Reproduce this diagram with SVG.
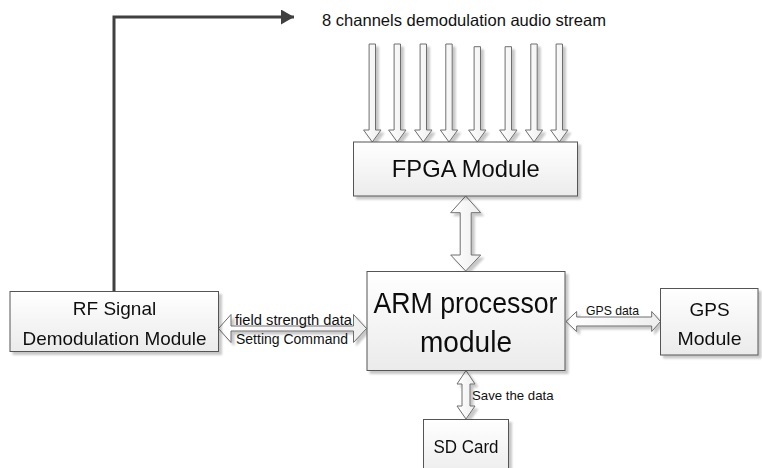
<svg xmlns="http://www.w3.org/2000/svg" width="762" height="468" viewBox="0 0 762 468">
<style>
.box{fill:url(#gb);stroke:#555555;stroke-width:1}
.blk{fill:url(#ga);stroke:#6e6e6e;stroke-width:1;stroke-linejoin:miter}
.t{font-family:"Liberation Sans",Arial,sans-serif;fill:#111111}
.m{text-anchor:middle}
.wire{fill:none;stroke:#404040;stroke-width:3}
</style>
<defs>
<linearGradient id="gb" x1="0" y1="0" x2="0" y2="1"><stop offset="0" stop-color="#ffffff"/><stop offset="1" stop-color="#ebebeb"/></linearGradient>
<linearGradient id="ga" x1="0" y1="0" x2="1" y2="0"><stop offset="0" stop-color="#ffffff"/><stop offset="1" stop-color="#eeeeee"/></linearGradient>
<filter id="sh" filterUnits="userSpaceOnUse" x="0" y="0" width="762" height="480">
<feGaussianBlur in="SourceAlpha" stdDeviation="1.2"/>
<feOffset dx="3" dy="3"/>
<feComponentTransfer><feFuncA type="linear" slope="0.22"/></feComponentTransfer>
<feMerge><feMergeNode/><feMergeNode in="SourceGraphic"/></feMerge>
</filter>
<marker id="ah" markerUnits="userSpaceOnUse" markerWidth="14" markerHeight="16" refX="13" refY="7.5" orient="auto">
<path d="M0,0 L13,7.5 L0,15 Z" fill="#404040"/>
</marker>
</defs>

<g id="connectors">
<polyline class="wire" points="114,291.5 114,17 294,17" marker-end="url(#ah)"/>
<g id="audio-arrows" filter="url(#sh)">
<path class="blk" d="M369.1,44 H375.5 V130 H381 L372.3,142 L363.6,130 H369.1 Z"/>
<path class="blk" d="M394.1,44 H400.5 V130 H406 L397.3,142 L388.6,130 H394.1 Z"/>
<path class="blk" d="M420.1,44 H426.5 V130 H432 L423.3,142 L414.6,130 H420.1 Z"/>
<path class="blk" d="M445.8,44 H452.2 V130 H457.7 L449,142 L440.3,130 H445.8 Z"/>
<path class="blk" d="M474.1,46.7 H480.5 V130 H486 L477.3,142 L468.6,130 H474.1 Z"/>
<path class="blk" d="M505.1,46.7 H511.5 V130 H517 L508.3,142 L499.6,130 H505.1 Z"/>
<path class="blk" d="M530.8,44 H537.2 V130 H542.7 L534,142 L525.3,130 H530.8 Z"/>
<path class="blk" d="M556.1,44 H562.5 V130 H568 L559.3,142 L550.6,130 H556.1 Z"/>
</g>
<g id="fpga-arm" filter="url(#sh)">
<path class="blk" d="M465.7,196 L480.7,212.7 H471.2 V255 H480.7 L465.7,271 L450.7,255 H460.2 V212.7 H450.7 Z"/>
</g>
<g id="rf-arm" filter="url(#sh)">
<path class="blk" d="M218.5,328.5 L231,314.5 V326 H353.5 V314.5 L366.5,328.5 L353.5,342.5 V331 H231 V342.5 Z"/>
</g>
<g id="arm-gps" filter="url(#sh)">
<path class="blk" d="M566,321.5 L576.7,311.5 V317 H651.7 V311.5 L660.5,321.5 L651.7,331.5 V326 H576.7 V331.5 Z"/>
</g>
<g id="arm-sd" filter="url(#sh)">
<path class="blk" d="M466,370.5 L475,384 H470 V406 H475 L466,419 L457,406 H462 V384 H457 Z"/>
</g>
<text class="t" x="322" y="26" font-size="16.5" textLength="284" lengthAdjust="spacingAndGlyphs">8 channels demodulation audio stream</text>
<text class="t" x="235" y="324.5" font-size="14" textLength="117" lengthAdjust="spacingAndGlyphs">field strength data</text>
<text class="t" x="236" y="343.5" font-size="14" textLength="112" lengthAdjust="spacingAndGlyphs">Setting Command</text>
<text class="t" x="586" y="315" font-size="13" textLength="53" lengthAdjust="spacingAndGlyphs">GPS data</text>
<text class="t" x="472" y="400" font-size="13" textLength="81.5" lengthAdjust="spacingAndGlyphs">Save the data</text>
</g>

<g id="fpga" filter="url(#sh)">
<rect class="box" x="353.5" y="142" width="224" height="54"/>
<text class="t m" x="465.8" y="177" font-size="24" textLength="148" lengthAdjust="spacingAndGlyphs">FPGA Module</text>
</g>

<g id="arm" filter="url(#sh)">
<rect class="box" x="367" y="271.5" width="198" height="99"/>
<text class="t m" x="465.5" y="313" font-size="29" textLength="184" lengthAdjust="spacingAndGlyphs">ARM processor</text>
<text class="t m" x="466" y="351.5" font-size="29" textLength="92" lengthAdjust="spacingAndGlyphs">module</text>
</g>

<g id="rf" filter="url(#sh)">
<rect class="box" x="10" y="291.5" width="208.5" height="60"/>
<text class="t m" x="114.5" y="315" font-size="19">RF Signal</text>
<text class="t m" x="114.5" y="344.5" font-size="19" textLength="184" lengthAdjust="spacingAndGlyphs">Demodulation Module</text>
</g>

<g id="gps" filter="url(#sh)">
<rect class="box" x="660.5" y="288.5" width="97.5" height="66.5"/>
<text class="t m" x="709.5" y="316" font-size="19">GPS</text>
<text class="t m" x="709.5" y="345" font-size="19" textLength="64" lengthAdjust="spacingAndGlyphs">Module</text>
</g>

<g id="sd" filter="url(#sh)">
<rect class="box" x="423.5" y="419.5" width="85" height="60"/>
<text class="t m" x="466" y="452.5" font-size="17.5" textLength="65" lengthAdjust="spacingAndGlyphs">SD Card</text>
</g>
</svg>
